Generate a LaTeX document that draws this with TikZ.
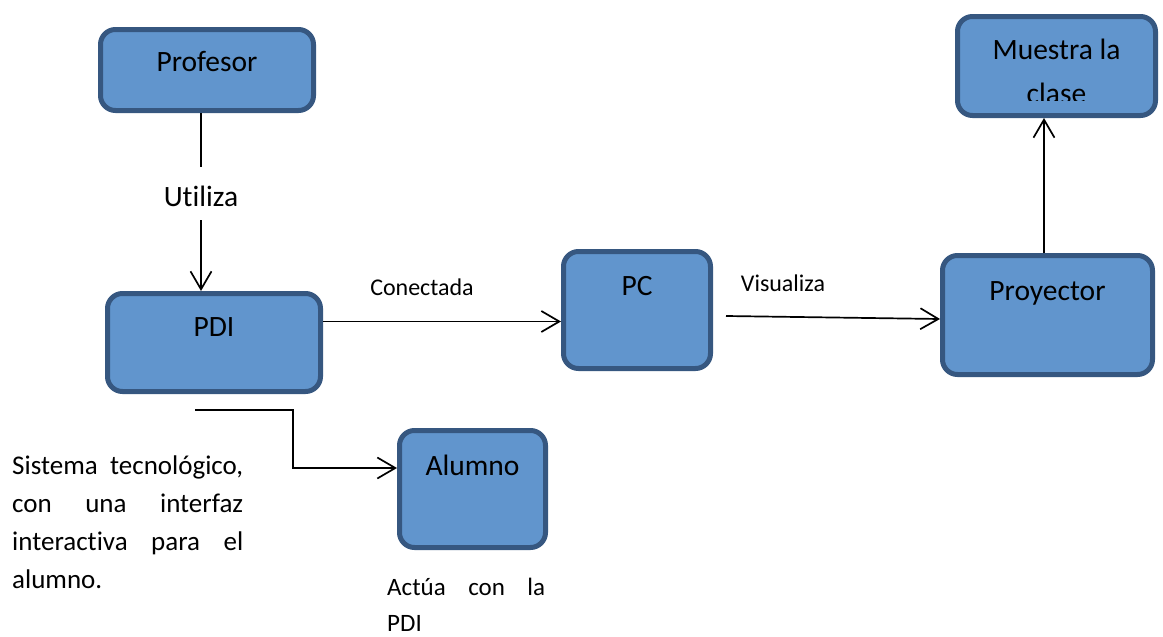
\documentclass[tikz,border=0pt]{standalone}
\usepackage{fontspec}
\setmainfont{Carlito}[Ligatures=NoCommon]
\usetikzlibrary{arrows.meta,positioning,calc}

\definecolor{boxfill}{RGB}{97,149,205}
\definecolor{boxline}{RGB}{54,87,128}

\tikzset{
  box/.style={draw=boxline, fill=boxfill, line width=5pt, rounded corners=15pt,
    inner sep=0pt, text height=20pt, font=\fontsize{29.5}{34}\selectfont},
  link/.style={line width=1.7pt, black},
  arr/.style={link, -{Straight Barb[length=18pt,width=21pt,line width=1.7pt]}},
  lbl/.style={inner sep=0pt, font=\fontsize{24}{28}\selectfont},
  note/.style={inner sep=0pt, align=justify, anchor=north west}
}

\begin{document}
\begin{tikzpicture}[x=1pt,y=-1pt]
\useasboundingbox (0,0) rectangle (1163,637);

% boxes
\node[box, minimum width=213pt, minimum height=81pt, text depth=18pt] (profesor) at (207,70) {Profesor};
\node[box, minimum width=198pt, minimum height=99pt] (muestra) at (1056.5,66) {};
\node[box, minimum width=213pt, minimum height=98pt, text depth=33pt] (pdi) at (214,342.5) {PDI};
\node[box, minimum width=147pt, minimum height=117pt, text depth=50pt] (pc) at (637,310) {PC};
\node[box, minimum width=210pt, minimum height=119pt, text depth=50pt] (proyector) at (1047.5,315) {Proyector};
\node[box, minimum width=146pt, minimum height=117pt, text depth=48pt] (alumno) at (472.5,489) {Alumno};

% two-line caption, cut off by the text frame of its box
\begin{scope}
  \clip (955,14) rectangle (1158,100);
  \node[inner sep=0pt, anchor=north, align=center, font=\fontsize{29.5}{44}\selectfont]
    (muestratxt) at (1056.5,38.5) {Muestra la\\clase};
\end{scope}

% labels
\node[inner sep=0pt, font=\fontsize{29.5}{34}\selectfont] (utiliza) at (201,196) {Utiliza};
\node[lbl] (conectada) at (422,287) {Conectada};
\node[lbl] (visualiza) at (783,283) {Visualiza};

% connectors
\draw[link] (profesor.south -| utiliza.center) -- ([yshift=29pt]utiliza.center);
\draw[arr] ([yshift=-24pt]utiliza.center) -- (utiliza.center |- pdi.north);
\draw[arr] ([yshift=21pt]pdi.east) -- ([yshift=21pt]pdi.east -| pc.west);
\draw[arr] ([xshift=13pt,yshift=-6pt]pc.east) -- ([yshift=-4pt]proyector.west);
\draw[arr] ([xshift=-3.5pt]proyector.north) -- ([xshift=-3.5pt]proyector.north |- muestra.south);
\coordinate (pdiout) at (195,410);
\draw[arr] (pdiout) -- ++(98,0) |- ([yshift=21pt]alumno.west);

% notes
\node[note, text width=231pt, font=\fontsize{27}{38}\selectfont] (sistema) at (12,456)
  {Sistema tecnológico,\linebreak con una interfaz\linebreak interactiva para el\linebreak alumno.};
\node[note, text width=158pt, font=\fontsize{25}{36}\selectfont] (actua) at (387,578)
  {Actúa con la\linebreak PDI};
\end{tikzpicture}
\end{document}
